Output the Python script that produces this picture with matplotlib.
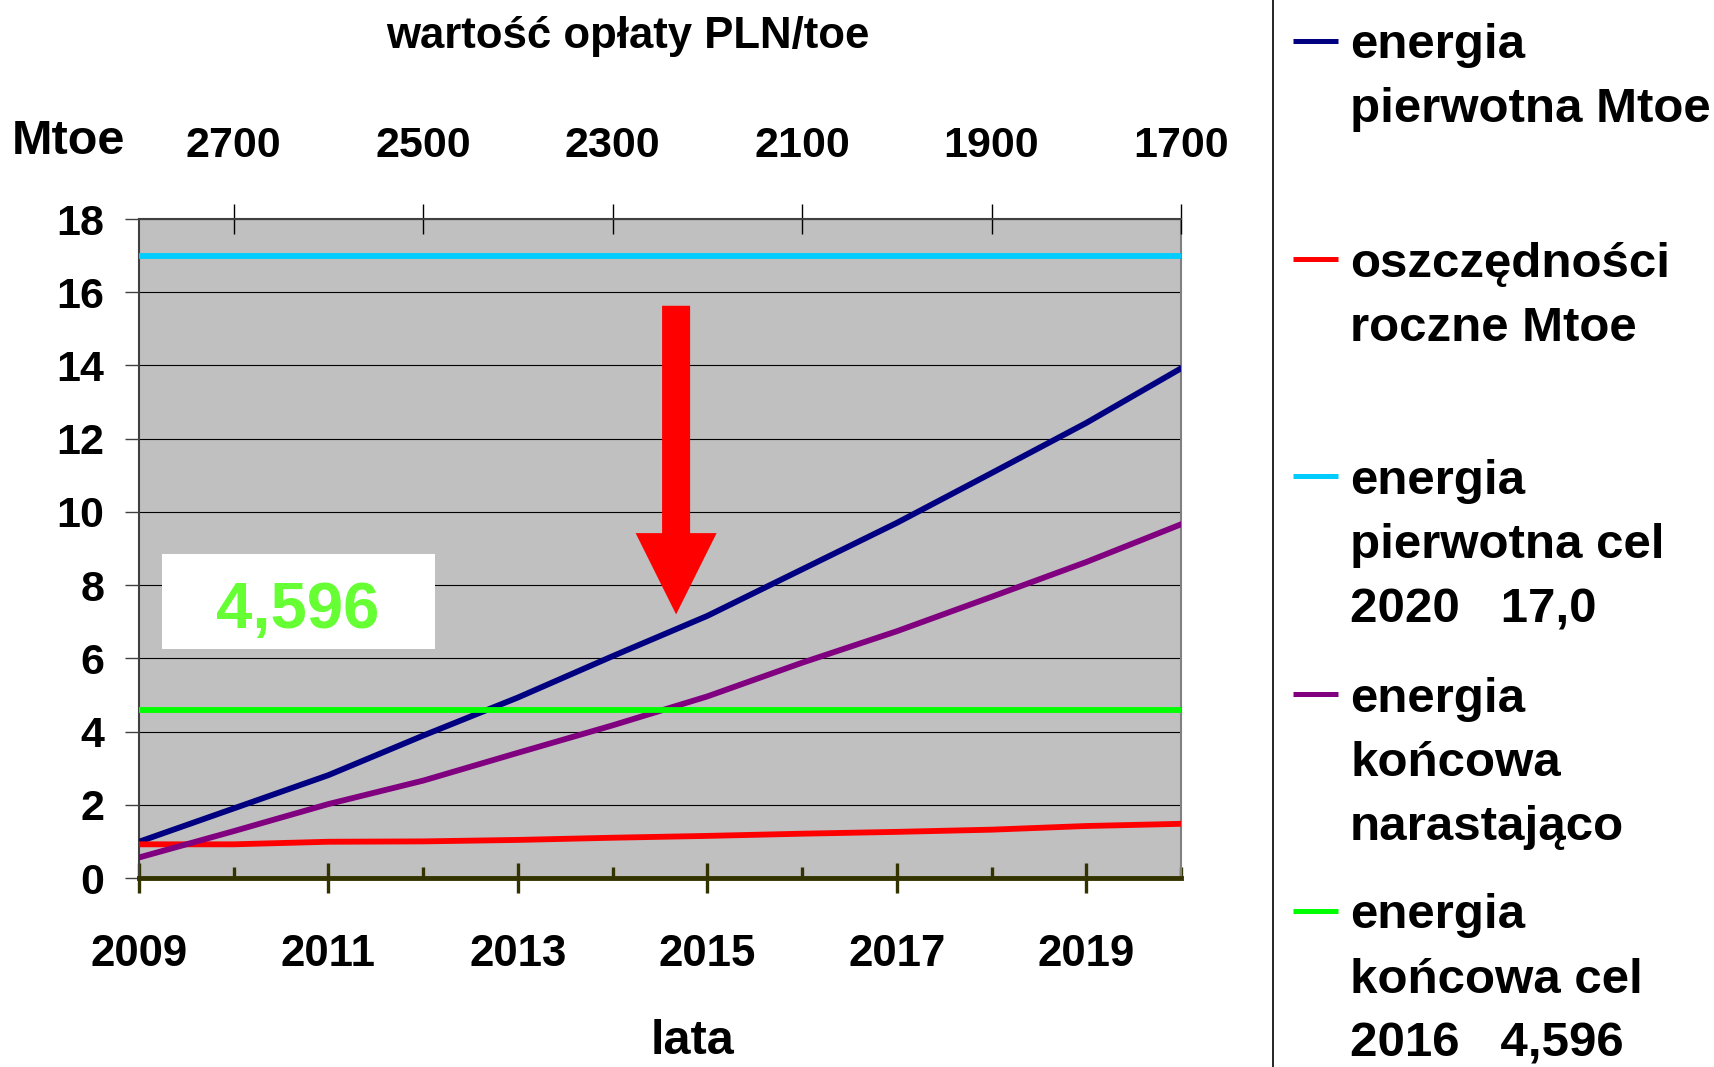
import matplotlib
matplotlib.use("Agg")
import matplotlib.pyplot as plt
from matplotlib.lines import Line2D
from matplotlib.patches import Rectangle, FancyArrow

plt.rcParams['font.family'] = ['Liberation Sans', 'DejaVu Sans']
plt.rcParams['font.weight'] = 'bold'

# dane
lata = [2009, 2010, 2011, 2012, 2013, 2014, 2015, 2016, 2017, 2018, 2019, 2020]
energia_pierwotna = [0.99, 1.90, 2.81, 3.89, 4.93, 6.06, 7.16, 8.43, 9.70, 11.06, 12.43, 13.92]
oszczednosci = [0.92, 0.92, 0.99, 1.00, 1.04, 1.10, 1.15, 1.21, 1.26, 1.32, 1.42, 1.48]
energia_koncowa = [0.56, 1.28, 2.02, 2.66, 3.42, 4.17, 4.96, 5.88, 6.74, 7.68, 8.63, 9.66]
cel_pierwotna = 17.0
cel_koncowa = 4.596

bottom_ticks = [2009, 2011, 2013, 2015, 2017, 2019]
minor_ticks = [2010, 2012, 2014, 2016, 2018, 2020]
top_ticks = [2010, 2012, 2014, 2016, 2018, 2020]
top_labels = ['2700', '2500', '2300', '2100', '1900', '1700']
y_ticks = [0, 2, 4, 6, 8, 10, 12, 14, 16, 18]

legend_labels = ['energia\npierwotna Mtoe',
                 'oszczędności\nroczne Mtoe',
                 'energia\npierwotna cel\n2020   17,0',
                 'energia\nkońcowa\nnarastająco',
                 'energia\nkońcowa cel\n2016   4,596']
colors = ['#000080', '#FF0000', '#00CCFF', '#800080', '#00FF00']

W, H = 1714, 1067
def fx(x):
    return x / W
def fy(y):
    return 1 - y / H

fig = plt.figure(figsize=(W / 100, H / 100), dpi=100)
ax = fig.add_axes([fx(139), fy(878), (1181 - 139) / W, (878 - 219) / H])
ax.set_facecolor('#C0C0C0')

lw = 4.2
ax.plot(lata, energia_pierwotna, color=colors[0], lw=lw, zorder=3)
ax.plot(lata, oszczednosci, color=colors[1], lw=lw, zorder=3)
ax.plot(lata, [cel_pierwotna] * len(lata), color=colors[2], lw=lw, zorder=3)
ax.plot(lata, energia_koncowa, color=colors[3], lw=lw, zorder=3)
ax.plot(lata, [cel_koncowa] * len(lata), color=colors[4], lw=lw, zorder=3)

ax.set_xlim(2009, 2020)
ax.set_ylim(0, 18)
ax.set_xticks(bottom_ticks)
ax.set_xticks(minor_ticks, minor=True)
ax.set_yticks(y_ticks)
ax.grid(axis='y', color='black', linewidth=0.8)
ax.set_axisbelow(True)

ax.tick_params(axis='x', which='major', direction='inout', length=22, width=2.4,
               color='#333300', pad=29, labelsize=31.5)
ax.tick_params(axis='x', which='minor', direction='in', length=8, width=2.4,
               color='#333300')
ax.tick_params(axis='y', direction='out', length=10, width=1, color='#404040',
               pad=15, labelsize=31)

ax.spines['left'].set_color('#404040')
ax.spines['left'].set_linewidth(1.5)
ax.spines['right'].set_color('#808080')
ax.spines['right'].set_linewidth(1.5)
ax.spines['bottom'].set_color('#333300')
ax.spines['bottom'].set_linewidth(3.5)
ax.spines['top'].set_visible(False)

# górna oś: wartość opłaty
ax2 = ax.twiny()
ax2.set_xlim(2009, 2020)
ax2.set_xticks(top_ticks)
ax2.set_xticklabels(top_labels)
ax2.tick_params(axis='x', direction='inout', length=22, width=1, color='black',
                pad=27.5, labelsize=31)
for s in ['left', 'right', 'bottom']:
    ax2.spines[s].set_visible(False)
ax2.spines['top'].set_color('#404040')
ax2.spines['top'].set_linewidth(1.5)

# strzałka
ax.add_patch(FancyArrow(2014.67, 15.63, 0, -8.43, width=0.296, head_width=0.855,
                        head_length=2.22, length_includes_head=True,
                        color='red', lw=0, zorder=4))

# ramka z wartością
ax.add_patch(Rectangle((2009.246, 6.26), 2.88, 2.6, facecolor='white',
                       edgecolor='none', zorder=4))
ax.text(2010.68, 6.84, '4,596', color='#66FF33', fontsize=47, ha='center',
        va='baseline', zorder=5)

fig.text(fx(628), fy(48.3), 'wartość opłaty PLN/toe', ha='center', va='baseline', fontsize=31.5)
fig.text(fx(68), fy(154.5), 'Mtoe', ha='center', va='baseline', fontsize=35)
fig.text(fx(693), fy(1054), 'lata', ha='center', va='baseline', fontsize=35)

# legenda
fig.add_artist(Line2D([fx(1272.5)] * 2, [0, 1], color='black', lw=1.2))
handle_y = [40.6, 259, 475.9, 694, 910.8]
step = 64.3
for lab, c, hy in zip(legend_labels, colors, handle_y):
    fig.add_artist(Line2D([fx(1293), fx(1338)], [fy(hy)] * 2, color=c, lw=3.6,
                          solid_capstyle='butt'))
    n = lab.count('\n')
    # wyrównanie do linii bazowej ostatniego wiersza
    fig.text(fx(1350), fy(hy + 17.5 + n * step), lab, ha='left', va='baseline',
             fontsize=35.5, linespacing=1.55)

fig.savefig('out.png', dpi=100)
